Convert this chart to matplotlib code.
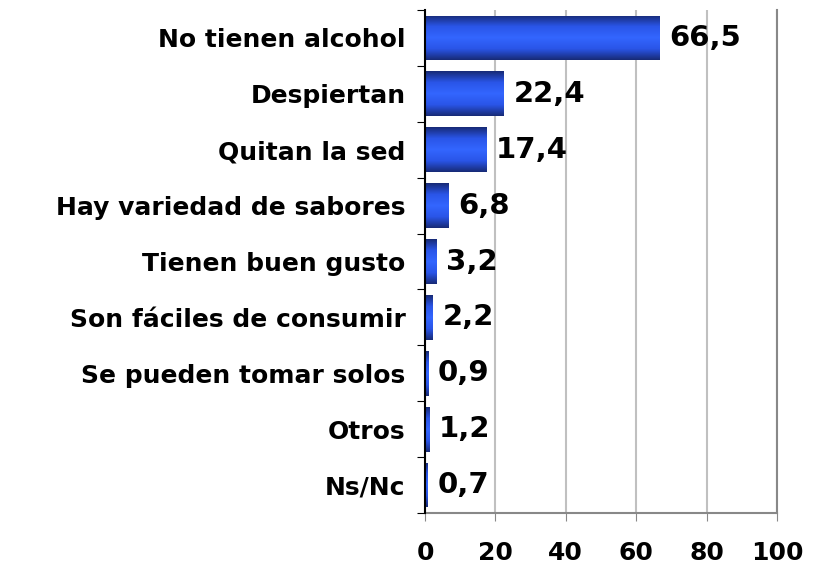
import matplotlib
matplotlib.use("Agg")
import matplotlib.pyplot as plt
import numpy as np
from matplotlib.colors import LinearSegmentedColormap

categories = ["No tienen alcohol", "Despiertan", "Quitan la sed", "Hay variedad de sabores",
              "Tienen buen gusto", "Son fáciles de consumir", "Se pueden tomar solos", "Otros", "Ns/Nc"]
values = [66.5, 22.4, 17.4, 6.8, 3.2, 2.2, 0.9, 1.2, 0.7]
xticks = [0, 20, 40, 60, 80, 100]

plt.rcParams['font.family'] = ['DejaVu Sans']

fig = plt.figure(figsize=(8.14, 5.65), dpi=100)
ax = fig.add_axes([425/814, 1-513/565, 352/814, 503/565])

n = len(categories)
pos = np.arange(n)
bars = ax.barh(pos, values, height=0.8, color='#3060ff', zorder=2)

cmap = LinearSegmentedColormap.from_list('g', ['#172a75', '#2a55e8', '#3366ff', '#2a55e8', '#172a75'])
grad = np.linspace(0, 1, 256).reshape(-1, 1)
for b in bars:
    x0, y0 = b.get_x(), b.get_y()
    w, h = b.get_width(), b.get_height()
    im = ax.imshow(grad, cmap=cmap, aspect='auto', extent=[x0, x0 + w, y0, y0 + h],
                   origin='lower', zorder=3)
    im.set_clip_path(b)

for p, v in zip(pos, values):
    ax.annotate(f"{v:.1f}".replace('.', ','), (v, p), xytext=(7, 0), textcoords='offset points',
                va='center', ha='left', fontsize=21, fontweight='bold', zorder=4)

ax.set_xlim(0, 100)
ax.set_ylim(n - 0.5, -0.5)
ax.set_xticks(xticks)
ax.set_xticklabels([str(t) for t in xticks], fontsize=18, fontweight='bold')
ax.tick_params(axis='x', length=6, color='#888888', pad=14)

ax.set_yticks(np.arange(-0.5, n, 1.0))
ax.set_yticklabels([])
ax.set_yticks(pos, minor=True)
ax.set_yticklabels(categories, minor=True, fontsize=18, fontweight='bold')
ax.tick_params(axis='y', which='major', length=6, color='black', direction='out')
ax.tick_params(axis='y', which='minor', length=0, pad=14)

ax.grid(axis='x', color='#c0c0c0', linewidth=1.5, zorder=0)
ax.set_axisbelow(True)
ax.spines['top'].set_visible(False)
ax.spines['right'].set_color('#888888')
ax.spines['right'].set_linewidth(1.5)
ax.spines['bottom'].set_color('#888888')
ax.spines['bottom'].set_linewidth(1.5)
ax.spines['left'].set_color('black')
ax.spines['left'].set_linewidth(1.5)
ax.spines['left'].set_zorder(5)

fig.savefig("out.png", dpi=100)
